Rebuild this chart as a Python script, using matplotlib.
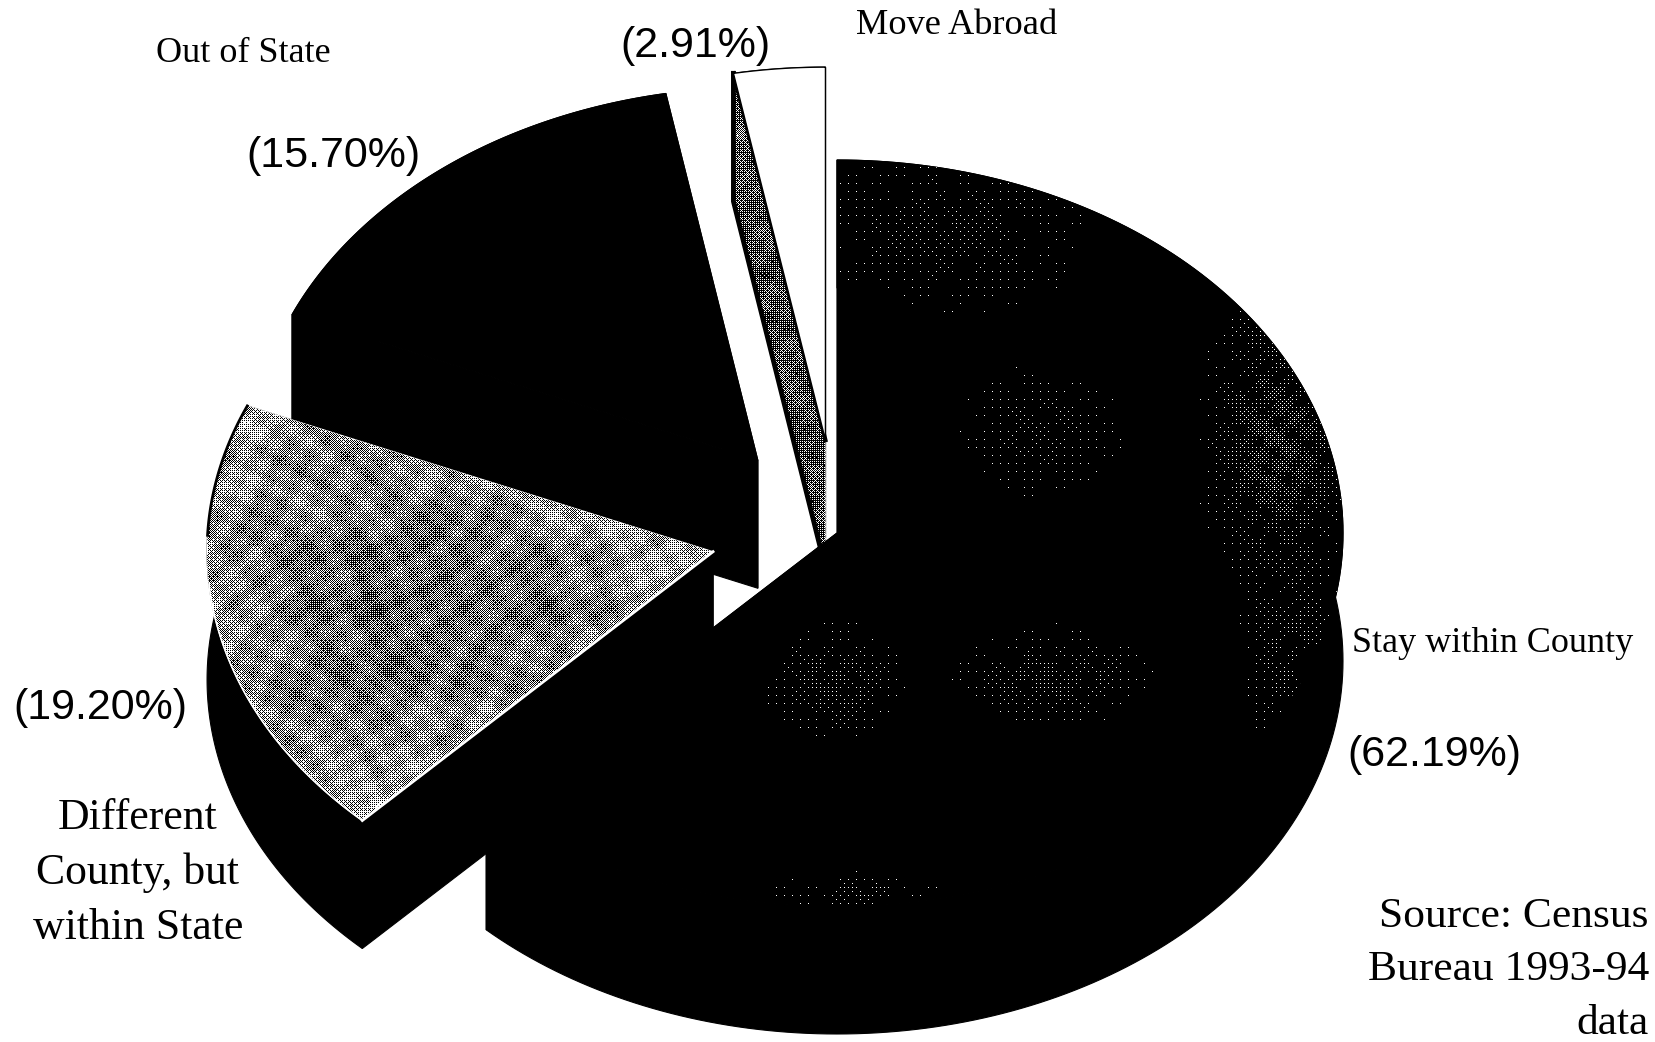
import numpy as np
import matplotlib
matplotlib.use("Agg")
import matplotlib.pyplot as plt
from matplotlib.patches import Polygon

labels = ["Stay within County", "Different County, but within State", "Out of State", "Move Abroad"]
shares = [62.19, 19.20, 15.70, 2.91]
explode = [0.0, 0.25, 0.25, 0.25]

# pie geometry in pixels
W, H = 1656, 1042
CX, CY = 837, 533
RX, RY = 506, 373
DEPTH = 128

serif = "Liberation Serif"
sans = "Liberation Sans"

fig = plt.figure(figsize=(W / 100, H / 100), dpi=100)
ax = fig.add_axes([0, 0, 1, 1])
ax.set_xlim(0, W)
ax.set_ylim(H, 0)
ax.axis("off")

# 8x8 ordered dither, one dot per pixel, for the photocopied shading
b2 = np.array([[0, 2], [3, 1]])
bayer = np.block([[4 * b2, 4 * b2 + 2], [4 * b2 + 3, 4 * b2 + 1]])
bayer = np.block([[4 * bayer, 4 * bayer + 2], [4 * bayer + 3, 4 * bayer + 1]])
thresh = np.tile((bayer + 0.5) / 64, (H // 8 + 1, W // 8 + 1))[:H, :W]
gx, gy = np.meshgrid(np.arange(W) + 0.5, np.arange(H) + 0.5)

# uneven mottling so the toner doesn't look like a clean screen
mottle = np.sin(gx / 5.3 + 3 * np.sin(gy / 31)) * np.sin(gy / 4.7 + 2 * np.sin(gx / 41))
mottle_big = np.sin(gx / 19 + 2.5 * np.sin(gy / 47)) * np.sin(gy / 15 + 2.5 * np.sin(gx / 37))


def halftone(darkness, clip, zorder):
    # black where darkness beats the threshold, white elsewhere
    rgba = np.ones(gx.shape + (4,))
    rgba[..., :3] = (darkness <= thresh)[..., None]
    im = ax.imshow(rgba, extent=(0, W, H, 0), interpolation="nearest", zorder=zorder, aspect="auto")
    im.set_clip_path(clip)


def blob(x, y, sx, sy):
    return np.exp(-((gx - x) ** 2) / (2 * sx ** 2) - ((gy - y) ** 2) / (2 * sy ** 2))


def rim(t, cx, cy, z=0):
    return np.column_stack([cx + RX * np.sin(t), cy - RY * np.cos(t) + z])


def add_poly(pts, zorder, fc="black", ec=None, lw=0.8):
    # black faces get a black edge so no seams show between them
    p = Polygon(pts, closed=True, facecolor=fc, edgecolor=ec or fc, linewidth=lw, zorder=zorder, joinstyle="miter")
    ax.add_patch(p)
    return p


# slice angles run clockwise from twelve o'clock
edges = np.radians(np.cumsum([0] + shares) * 3.6)
slices = {}
for i, name in enumerate(labels):
    t1, t2 = edges[i], edges[i + 1]
    mid = (t1 + t2) / 2
    cx = CX + explode[i] * RX * np.sin(mid)
    cy = CY - explode[i] * RY * np.cos(mid)
    t = np.linspace(t1, t2, 200)
    top = rim(t, cx, cy)
    low = rim(t, cx, cy, DEPTH)
    apex = np.array([cx, cy])
    slices[name] = dict(top=np.vstack([apex, top]),
                        wall=np.vstack([top, low[::-1]]),
                        cut1=np.array([apex, top[0], low[0], apex + [0, DEPTH]]),
                        cut2=np.array([apex, top[-1], low[-1], apex + [0, DEPTH]]))

# back slices first, the big slice goes on last
order = [3, 2, 1, 0]
for k, i in enumerate(order):
    s = slices[labels[i]]
    z = 2 + k * 3
    add_poly(s["wall"], z)
    add_poly(s["cut1"], z)
    add_poly(s["cut2"], z)
    if i == 0:
        top = add_poly(s["top"], z + 1)
        speck = np.clip(0.55 + 0.6 * mottle + 0.4 * mottle_big, 0, 1)
        shade = 1.0 - speck * (0.17 * blob(1280, 440, 35, 70) + 0.07 * blob(1290, 650, 25, 50)
                               + 0.035 * blob(1040, 430, 50, 40) + 0.04 * blob(950, 230, 80, 50)
                               + 0.07 * blob(835, 680, 35, 30) + 0.07 * blob(1050, 675, 50, 25)
                               + 0.05 * blob(860, 890, 50, 10))
        halftone(shade, top, z + 2)
    elif i == 1:
        top = add_poly(s["top"], z + 1, fc="white")
        shade = 0.34 + 0.24 * blob(370, 600, 120, 120) + 0.14 * blob(540, 610, 90, 50) \
            + 0.10 * mottle_big + 0.13 * mottle
        halftone(shade, top, z + 2)
        # pale edge along the lower side, dark rim around the back
        ax.plot(s["top"][[0, 1], 0], s["top"][[0, 1], 1], color="white", lw=2, zorder=z + 3)
        ax.plot(s["top"][1:120, 0], s["top"][1:120, 1], color="white", lw=1.2, zorder=z + 3)
        ax.plot(s["top"][-60:, 0], s["top"][-60:, 1], color="black", lw=2, zorder=z + 3)
    elif i == 2:
        add_poly(s["top"], z + 1)
    else:
        # open cut face shows as a stippled sliver beside the white top
        face = add_poly(s["cut1"], z + 1, fc="white")
        shade = 0.66 + 0.10 * mottle_big + 0.10 * mottle
        halftone(shade, face, z + 2)
        ax.plot(*s["cut1"][[1, 2, 3]].T, color="black", lw=3.5, zorder=z + 3)
        ax.plot(*s["cut1"][[1, 0]].T, color="black", lw=3, zorder=z + 3)
        add_poly(s["top"], z + 4, fc="white", ec="black", lw=1)

kw = dict(color="black", ha="center", va="center", zorder=30)
ax.text(243, 54, "Out of State", family=serif, fontsize=26, **kw)
ax.text(957, 26, "Move Abroad", family=serif, fontsize=26.2, **kw)
ax.text(1493, 643, "Stay within County", family=serif, fontsize=26, **kw)
ax.text(138, 873, "Different\nCounty, but\nwithin State", family=serif, fontsize=31.5, linespacing=1.46, **kw)

pct_size = 31
ax.text(1434, 755, f"({shares[0]:.2f}%)", family=sans, fontsize=pct_size, **kw)
ax.text(100, 708, f"({shares[1]:.2f}%)", family=sans, fontsize=pct_size, **kw)
ax.text(333, 156, f"({shares[2]:.2f}%)", family=sans, fontsize=pct_size, **kw)
ax.text(695, 46, f"({shares[3]:.2f}%)", family=sans, fontsize=pct_size, **kw)

ax.text(1649, 970, "Source: Census\nBureau 1993-94\ndata", family=serif, fontsize=31.3, linespacing=1.5,
        ha="right", va="center", multialignment="right", color="black", zorder=30)

fig.savefig("out.png", dpi=100, facecolor="white")
